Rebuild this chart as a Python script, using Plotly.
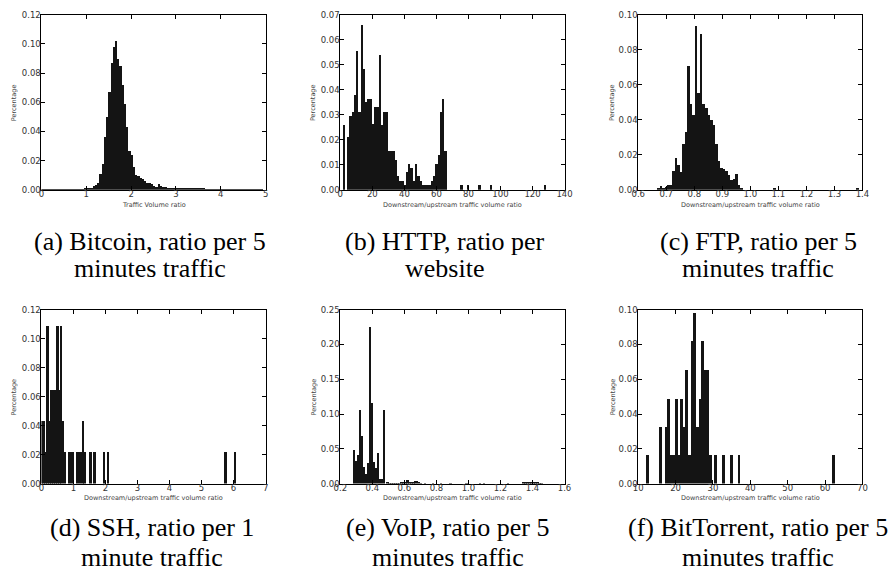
import plotly.graph_objects as go

W, H = 896, 580

# ---------------- data (histogram bin heights) ----------------
# (a) Bitcoin: bins of 0.05 from 0 to 5
btc_start, btc_width = 0.0, 0.05
btc_vals = [0.0005, 0.0003, 0.0002, 0.0002, 0.0002, 0.0003, 0.0002, 0.0003, 0.0003, 0.0002,
            0.0003, 0.0004, 0.0003, 0.0004, 0.0004, 0.0005, 0.0005, 0.0006, 0.0006, 0.0008,
            0.0009, 0.0012, 0.0015, 0.0025, 0.0035, 0.005, 0.011, 0.018, 0.036, 0.050,
            0.067, 0.087, 0.098, 0.1025, 0.090, 0.085, 0.072, 0.059, 0.0435, 0.0265,
            0.024, 0.016, 0.010, 0.0095, 0.008, 0.0074, 0.006, 0.0045, 0.0045, 0.0038,
            0.003, 0.0023, 0.0038, 0.0025, 0.002, 0.0018, 0.0016, 0.0015, 0.0013, 0.0012,
            0.0011, 0.0012, 0.0009, 0.001, 0.0014, 0.0009, 0.0012, 0.0008, 0.0009, 0.0007,
            0.0008, 0.0013, 0.0007, 0.0006, 0.0005, 0.0006, 0.0004, 0.0004, 0.0005, 0.0003,
            0.0003, 0.0003, 0.0002, 0.0003, 0.0002, 0.0002, 0.0003, 0.0002, 0.0002, 0.0002,
            0.0002, 0.0002, 0.0003, 0.0002, 0.0002, 0.0002, 0.0002, 0.0002, 0.0002, 0.0]

# (b) HTTP: 90 bins from 1.6, width 1.414
http_start, http_width = 1.6, 1.414
http_vals = [0.026, 0.0, 0.021, 0.0295, 0.031, 0.038, 0.0555, 0.031, 0.066, 0.0485,
             0.035, 0.0365, 0.0365, 0.0265, 0.033, 0.033, 0.054, 0.026, 0.031, 0.031,
             0.0155, 0.0155, 0.0155, 0.012, 0.0054, 0.0036, 0.0036, 0.0018, 0.007, 0.0105,
             0.0087, 0.0036, 0.0105, 0.0054, 0.0036, 0.0018, 0.0018, 0.0018, 0.0018, 0.0036,
             0.0054, 0.0105, 0.014, 0.031, 0.0365, 0.0156, 0.0, 0.0, 0.0, 0.0,
             0.0, 0.0, 0.0018, 0.0, 0.0, 0.0018, 0.0, 0.0, 0.0, 0.0,
             0.0018, 0.0, 0.0, 0.0, 0.0, 0.0018, 0.0, 0.0, 0.0, 0.0,
             0.0, 0.0, 0.0, 0.0, 0.0, 0.0, 0.0, 0.0, 0.0, 0.0,
             0.0, 0.0, 0.0, 0.0, 0.0, 0.0, 0.0, 0.0, 0.0, 0.0018]

# (c) FTP: bins of 0.009 from 0.668
ftp_start, ftp_width = 0.668, 0.009
ftp_vals = [0.0013, 0.002, 0.001, 0.0019, 0.003, 0.003, 0.011, 0.018, 0.014, 0.010,
            0.026, 0.033, 0.071, 0.049, 0.043, 0.094, 0.0554, 0.089, 0.049, 0.047,
            0.043, 0.040, 0.037, 0.026, 0.0167, 0.0124, 0.012, 0.011, 0.0083, 0.0054,
            0.0064, 0.009, 0.0026, 0.0008, 0.0, 0.0, 0.0, 0.0, 0.0, 0.0,
            0.0, 0.0, 0.0, 0.0, 0.0, 0.0, 0.0008, 0.0, 0.0, 0.0,
            0.0, 0.0, 0.0, 0.0, 0.0, 0.0, 0.0, 0.0, 0.0, 0.0,
            0.0, 0.0, 0.0, 0.0, 0.0, 0.0, 0.0, 0.0, 0.0, 0.0,
            0.0, 0.0, 0.0, 0.0, 0.0, 0.0, 0.0, 0.0, 0.0, 0.0008]

# (d) SSH: 100 bins of 0.061 from 0
ssh_start, ssh_width = 0.0, 0.061
ssh_vals = [0.0435, 0.0435, 0.0217, 0.109, 0.0435, 0.065, 0.065, 0.065, 0.109, 0.065,
            0.109, 0.0435, 0.0217, 0.0, 0.0217, 0.0217, 0.0217, 0.0, 0.0217, 0.0217,
            0.0217, 0.0435, 0.0217, 0.0, 0.0, 0.0217, 0.0, 0.0217, 0.0, 0.0,
            0.0, 0.0, 0.0217, 0.0, 0.0217, 0.0, 0.0, 0.0, 0.0, 0.0] + [0.0] * 54 + \
           [0.0217, 0.0, 0.0, 0.0, 0.0, 0.0217]

# (e) VoIP: 96 bins of 0.0123 from 0.284
voip_start, voip_width = 0.284, 0.0123
voip_vals = [0.049, 0.0334, 0.042, 0.107, 0.069, 0.024, 0.0137, 0.030, 0.225, 0.116,
             0.032, 0.023, 0.044, 0.0066, 0.0075, 0.106, 0.0, 0.0015, 0.001, 0.001,
             0.0008, 0.0008, 0.001, 0.001, 0.0015, 0.002, 0.0025, 0.006, 0.002, 0.003,
             0.0035, 0.0045, 0.004, 0.0015, 0.0005, 0.0, 0.0005, 0.0, 0.0, 0.0,
             0.001, 0.0, 0.0, 0.0, 0.001, 0.0, 0.0, 0.0, 0.0, 0.001,
             0.0, 0.0, 0.0, 0.0, 0.0, 0.0, 0.0, 0.0008, 0.0, 0.0,
             0.0, 0.0, 0.0, 0.0, 0.001, 0.0, 0.0008, 0.0, 0.0, 0.0,
             0.0, 0.0, 0.0, 0.0, 0.0, 0.0, 0.0, 0.0, 0.0008, 0.0,
             0.0, 0.0, 0.0, 0.0, 0.0, 0.0, 0.002, 0.0025, 0.003, 0.003,
             0.0025, 0.003, 0.002, 0.0015, 0.001, 0.0005]

# (f) BitTorrent: 72 bins of 0.7 from 12.2
bt_start, bt_width = 12.2, 0.7
bt_vals = [0.0164, 0.0, 0.0, 0.0, 0.0, 0.0328, 0.0, 0.0328, 0.049, 0.0164,
           0.0164, 0.049, 0.0164, 0.049, 0.0328, 0.0656, 0.0164, 0.082, 0.098, 0.0328,
           0.049, 0.082, 0.0656, 0.0656, 0.0164, 0.0, 0.0164, 0.0, 0.0, 0.0164,
           0.0, 0.0, 0.0164, 0.0, 0.0, 0.0164] + [0.0] * 35 + [0.0164]

# ---------------- panels ----------------
panels = [
    dict(start=btc_start, width=btc_width, vals=btc_vals, xr=[0, 5], xt=[0, 1, 2, 3, 4, 5], xf="d",
         yr=[0, 0.12], yt=[0, 0.02, 0.04, 0.06, 0.08, 0.10, 0.12],
         box=(35, 263, 10, 188), xtitle="Traffic Volume ratio", ylab_x=7,
         cap=("(a) Bitcoin, ratio per 5", "minutes traffic"), capx=145, capy=(241, 268)),
    dict(start=http_start, width=http_width, vals=http_vals, xr=[0, 140], xt=list(range(0, 141, 20)), xf="d",
         yr=[0, 0.07], yt=[0, 0.01, 0.02, 0.03, 0.04, 0.05, 0.06, 0.07],
         box=(339, 567, 10, 188), xtitle="Downstream/upstream traffic volume ratio", ylab_x=312,
         cap=("(b) HTTP, ratio per", "website"), capx=445, capy=(241, 268)),
    dict(start=ftp_start, width=ftp_width, vals=ftp_vals, xr=[0.6, 1.4],
         xt=[0.6, 0.7, 0.8, 0.9, 1.0, 1.1, 1.2, 1.3, 1.4], xf=".1f",
         yr=[0, 0.10], yt=[0, 0.02, 0.04, 0.06, 0.08, 0.10],
         box=(642, 870, 10, 188), xtitle="Downstream/upstream traffic volume ratio", ylab_x=616,
         cap=("(c) FTP, ratio per 5", "minutes traffic"), capx=764, capy=(241, 268)),
    dict(start=ssh_start, width=ssh_width, vals=ssh_vals, xr=[0, 7], xt=list(range(0, 8)), xf="d",
         yr=[0, 0.12], yt=[0, 0.02, 0.04, 0.06, 0.08, 0.10, 0.12],
         box=(35, 263, 310, 487), xtitle="Downstream/upstream traffic volume ratio", ylab_x=7,
         cap=("(d) SSH, ratio per 1", "minute traffic"), capx=147, capy=(532, 562)),
    dict(start=voip_start, width=voip_width, vals=voip_vals, xr=[0.2, 1.6],
         xt=[0.2, 0.4, 0.6, 0.8, 1.0, 1.2, 1.4, 1.6], xf=".1f",
         yr=[0, 0.25], yt=[0, 0.05, 0.10, 0.15, 0.20, 0.25],
         box=(339, 567, 310, 487), xtitle="Downstream/upstream traffic volume ratio", ylab_x=312,
         cap=("(e) VoIP, ratio per 5", "minutes traffic"), capx=448, capy=(532, 562)),
    dict(start=bt_start, width=bt_width, vals=bt_vals, xr=[10, 70], xt=list(range(10, 71, 10)), xf="d",
         yr=[0, 0.10], yt=[0, 0.02, 0.04, 0.06, 0.08, 0.10],
         box=(642, 870, 310, 487), xtitle="Downstream/upstream traffic volume ratio", ylab_x=616,
         cap=("(f) BitTorrent, ratio per 5", "minutes traffic"), capx=764, capy=(532, 562)),
]

fig = go.Figure()
annotations = []
tickfont = dict(family="DejaVu Sans", size=8.5, color="#333")
labfont = dict(family="DejaVu Sans", size=6.5, color="#444")
capfont = dict(family="Liberation Serif", size=26, color="#000")

def px(x):
    return x / W

def py(y):
    return 1 - y / H

for k, p in enumerate(panels, start=1):
    xa = "x" if k == 1 else f"x{k}"
    ya = "y" if k == 1 else f"y{k}"
    centers = [p["start"] + p["width"] * (i + 0.5) for i in range(len(p["vals"]))]
    fig.add_trace(go.Bar(x=centers, y=p["vals"], width=[p["width"]] * len(centers),
                         marker=dict(color="#141414", line=dict(width=0)),
                         xaxis=xa, yaxis=ya, showlegend=False, hoverinfo="skip"))
    l, r, t, b = p["box"]
    common = dict(showline=True, linecolor="black", linewidth=1, mirror="ticks",
                  ticks="inside", ticklen=4, tickcolor="black", tickwidth=1,
                  showgrid=False, zeroline=False, tickfont=tickfont, fixedrange=True)
    fig.layout[f"xaxis{'' if k == 1 else k}"] = dict(
        domain=[px(l), px(r)], anchor=ya, range=p["xr"], tickvals=p["xt"],
        tickformat=p["xf"], ticklabelstandoff=-4, **common)
    fig.layout[f"yaxis{'' if k == 1 else k}"] = dict(
        domain=[py(b), py(t)], anchor=xa, range=p["yr"], tickvals=p["yt"],
        tickformat=".2f", ticklabelstandoff=-2, **common)
    annotations.append(dict(text=p["xtitle"], x=px((l + r) / 2), y=py(b + 15), xref="paper", yref="paper",
                            showarrow=False, font=labfont, xanchor="center", yanchor="middle"))
    annotations.append(dict(text="Percentage", x=px(p["ylab_x"]), y=py((t + b) / 2), xref="paper", yref="paper",
                            showarrow=False, font=labfont, textangle=-90, xanchor="center", yanchor="middle"))
    for line, yy in zip(p["cap"], p["capy"]):
        annotations.append(dict(text=line, x=px(p["capx"]), y=py(yy), xref="paper", yref="paper",
                                showarrow=False, font=capfont, xanchor="center", yanchor="middle"))

fig.update_layout(width=W, height=H, margin=dict(l=0, r=0, t=0, b=0),
                  paper_bgcolor="white", plot_bgcolor="white", bargap=0,
                  annotations=annotations)

fig.write_html("out.html")
